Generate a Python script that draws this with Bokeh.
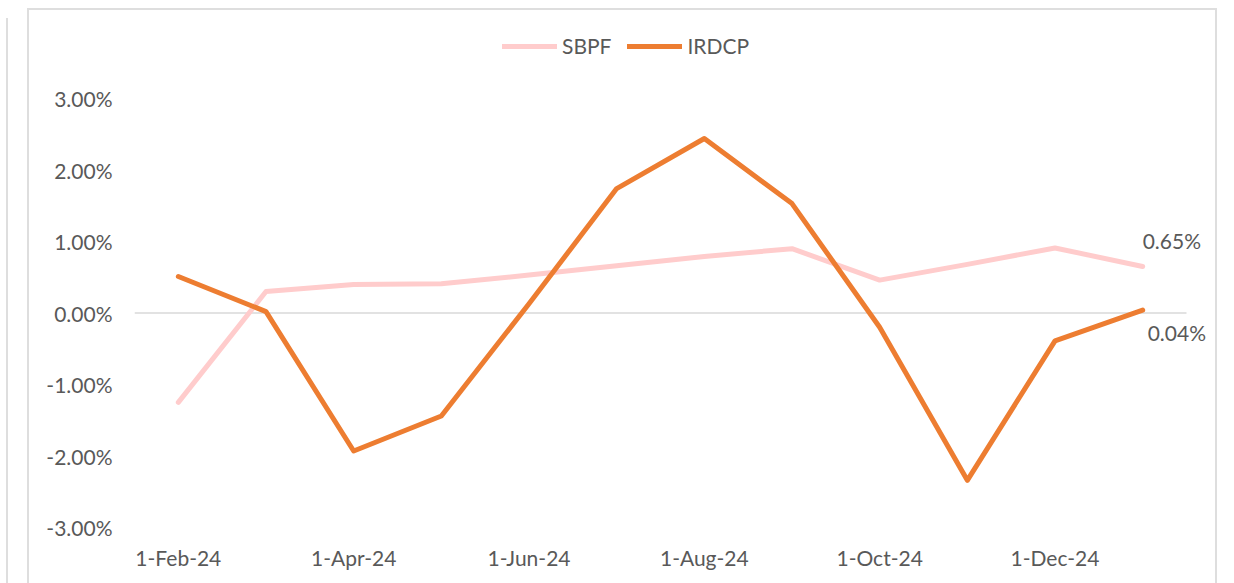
from bokeh.plotting import figure
from bokeh.models import (FixedTicker, Legend, LegendItem, Label, ColumnDataSource,
                          PrintfTickFormatter, InlineStyleSheet)
from bokeh.embed import file_html
from bokeh.resources import INLINE

# ---- data ----
months = ["1-Feb-24", "1-Mar-24", "1-Apr-24", "1-May-24", "1-Jun-24", "1-Jul-24",
          "1-Aug-24", "1-Sep-24", "1-Oct-24", "1-Nov-24", "1-Dec-24", "1-Jan-25"]
sbpf = [-1.25, 0.30, 0.40, 0.41, 0.53, 0.66, 0.79, 0.90, 0.46, 0.68, 0.91, 0.65]
irdcp = [0.51, 0.02, -1.93, -1.44, 0.13, 1.74, 2.44, 1.53, -0.20, -2.34, -0.39, 0.04]
tick_months = ["1-Feb-24", "1-Apr-24", "1-Jun-24", "1-Aug-24", "1-Oct-24", "1-Dec-24"]
y_ticks = [-3, -2, -1, 0, 1, 2, 3]

n = len(months)
idx = list(range(n))
src = ColumnDataSource(dict(x=idx, month=months, sbpf=sbpf, irdcp=irdcp))

FONT = "Lato"
TXT = "#595959"

# layout (pixels)
W, H = 1190, 575
ML, MR, MT, MB = 107, 4, 22, 56
plot_w, plot_h = 1052, 429          # Excel plot area inside the frame
frame_w, frame_h = W - ML - MR, H - MT - MB
x0 = -0.5
x1 = x0 + n * frame_w / plot_w
ylo, yhi = min(y_ticks), max(y_ticks)
y1 = ylo + (yhi - ylo) * frame_h / plot_h

p = figure(width=W, height=H, output_backend="svg", toolbar_location=None,
           x_range=(x0, x1), y_range=(ylo, y1),
           min_border_left=ML, min_border_right=MR, min_border_top=MT, min_border_bottom=MB)
p.margin = (8, 0, 0, 27)
p.outline_line_color = None
p.border_fill_color = None
p.background_fill_color = None
p.stylesheets = [InlineStyleSheet(css="""
:host { box-shadow: inset 2px 2px 0 #dedede, inset -2px 0 0 #dedede; }
:host::before { content: ""; position: absolute; left: -21px; top: 10px; height: 600px;
                width: 2px; background: #dedede; }
""")]

# axes
xt = [months.index(m) for m in tick_months]
p.xaxis.ticker = FixedTicker(ticks=xt)
p.xaxis.major_label_overrides = {i: m for i, m in zip(xt, tick_months)}
p.yaxis.ticker = FixedTicker(ticks=y_ticks)
p.yaxis.formatter = PrintfTickFormatter(format="%.2f%%")
for ax in (p.xaxis, p.yaxis):
    ax.axis_line_color = None
    ax.major_tick_line_color = None
    ax.minor_tick_line_color = None
    ax.major_tick_out = 0
    ax.major_label_text_font = FONT
    ax.major_label_text_font_size = "21px"
    ax.major_label_text_color = TXT
p.xaxis.major_label_standoff = 17
p.yaxis.major_label_standoff = 22

p.xgrid.grid_line_color = None
p.ygrid.grid_line_color = None
# horizontal zero gridline across the plot area
p.segment(x0=[x0], x1=[x0 + n], y0=[0], y1=[0], line_color="#d9d9d9", line_width=1.5)

r1 = p.line("x", "sbpf", source=src, line_color="#FFCCCC", line_width=5,
            line_join="round", line_cap="round")
r2 = p.line("x", "irdcp", source=src, line_color="#ED7D31", line_width=5,
            line_join="round", line_cap="round")

legend = Legend(items=[LegendItem(label="SBPF", renderers=[r1]),
                       LegendItem(label="IRDCP", renderers=[r2])],
                orientation="horizontal", location=(368, 469),
                glyph_width=55, glyph_height=20, label_standoff=5, spacing=16,
                padding=0, margin=0, border_line_color=None, background_fill_alpha=0,
                label_text_font=FONT, label_text_font_size="21px", label_text_color=TXT)
p.add_layout(legend, "center")

p.add_layout(Label(x=idx[-1], y=sbpf[-1], text=f"{sbpf[-1]:.2f}%", x_offset=0, y_offset=26,
                   text_align="left", text_baseline="middle", text_font=FONT,
                   text_font_size="21px", text_color=TXT))
p.add_layout(Label(x=idx[-1], y=irdcp[-1], text=f"{irdcp[-1]:.2f}%", x_offset=5, y_offset=-22,
                   text_align="left", text_baseline="middle", text_font=FONT,
                   text_font_size="21px", text_color=TXT))

open("out.html", "w").write(file_html(p, INLINE))
